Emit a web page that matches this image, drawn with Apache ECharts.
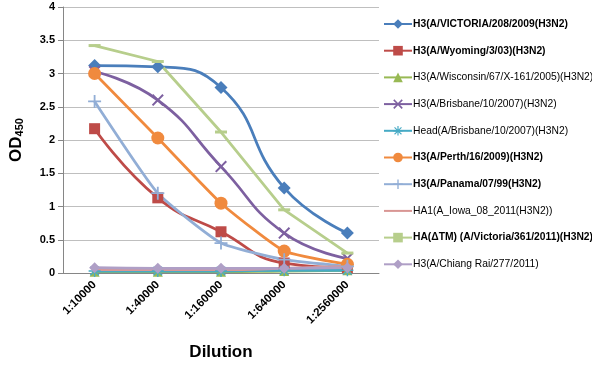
<!DOCTYPE html>
<html><head><meta charset="utf-8">
<script src="https://cdn.jsdelivr.net/npm/echarts@6/dist/echarts.min.js"></script>
<style>html,body{margin:0;padding:0;background:#fff}#c{width:592px;height:367px}</style>
</head><body><div id="c"></div>
<script>
const categories = ['1:10000','1:40000','1:160000','1:640000','1:2560000'];
const yTicks = [0,0.5,1,1.5,2,2.5,3,3.5,4];
const victoria208 = [3.12,3.10,2.79,1.28,0.60];
const wyoming = [2.17,1.13,0.62,0.15,0.08];
const wisconsin = [0.02,0.02,0.02,0.03,0.04];
const brisbane = [3.03,2.60,1.60,0.60,0.22];
const headBrisbane = [0.03,0.03,0.03,0.04,0.04];
const perth = [3.00,2.03,1.05,0.33,0.13];
const panama = [2.58,1.20,0.45,0.20,0.10];
const iowa = [0.05,0.05,0.05,0.07,0.10];
const victoria361 = [3.42,3.18,2.12,0.95,0.30];
const chiangRai = [0.08,0.07,0.07,0.07,0.08];

const X = 'path://M0,1.2L1.2,0L5,3.8L8.8,0L10,1.2L6.2,5L10,8.8L8.8,10L5,6.2L1.2,10L0,8.8L3.8,5Z';
const PLUS = 'path://M4.3,0H5.7V4.3H10V5.7H5.7V10H4.3V5.7H0V4.3H4.3Z';
const STAR = 'path://M4.4,0H5.6V3.6L8.2,1L9,1.8L6.4,4.4H10V5.6H6.4L9,8.2L8.2,9L5.6,6.4V10H4.4V6.4L1.8,9L1,8.2L3.6,5.6H0V4.4H3.6L1,1.8L1.8,1L4.4,3.6Z';

const defs = [
  {name:'H3(A/VICTORIA/208/2009(H3N2)', data:victoria208, color:'#4A7EBB', symbol:'diamond', size:13, smooth:true, bold:true},
  {name:'H3(A/Wyoming/3/03)(H3N2)', data:wyoming, color:'#BE4B48', symbol:'rect', size:11, smooth:true, bold:true},
  {name:'H3(A/Wisconsin/67/X-161/2005)(H3N2)', data:wisconsin, color:'#98B954', symbol:'triangle', size:10, smooth:true, bold:false},
  {name:'H3(A/Brisbane/10/2007)(H3N2)', data:brisbane, color:'#7D60A0', symbol:X, size:12, smooth:true, bold:false},
  {name:'Head(A/Brisbane/10/2007)(H3N2)', data:headBrisbane, color:'#46AAC5', symbol:STAR, size:12, smooth:true, bold:false},
  {name:'H3(A/Perth/16/2009)(H3N2)', data:perth, color:'#F08A3E', symbol:'circle', size:13, smooth:0.15, bold:true},
  {name:'H3(A/Panama/07/99(H3N2)', data:panama, color:'#92AED6', symbol:PLUS, size:13, smooth:0.15, bold:true},
  {name:'HA1(A_Iowa_08_2011(H3N2))', data:iowa, color:'#D99694', symbol:'none', size:0, smooth:true, bold:false},
  {name:'HA(\u0394TM) (A/Victoria/361/2011)(H3N2)', data:victoria361, color:'#B7CE8C', symbol:'rect', size:[12,3], smooth:false, bold:true},
  {name:'H3(A/Chiang Rai/277/2011)', data:chiangRai, color:'#AF9FC6', symbol:'diamond', size:11, smooth:true, bold:false}
];
const boldSet = new Set(defs.filter(d=>d.bold).map(d=>d.name));

const chart = echarts.init(document.getElementById('c'), null, {renderer:'canvas'});
chart.setOption({
  animation:false,
  textStyle:{fontFamily:'Liberation Sans'},
  grid:{left:63, right:213, top:7, bottom:94, containLabel:false},
  legend:{
    orient:'vertical', left:378, top:13, itemGap:14.7, itemWidth:28, itemHeight:12,
    data: defs.map(d=>d.name),
    formatter: n => boldSet.has(n) ? '{b|'+n+'}' : '{n|'+n+'}',
    textStyle:{fontSize:10.3, color:'#000', padding:[0,0,0,-4], lineHeight:12, rich:{
      b:{fontSize:10.3, fontWeight:'bold', color:'#000', fontFamily:'Liberation Sans', lineHeight:12},
      n:{fontSize:10.3, color:'#000', fontFamily:'Liberation Sans', lineHeight:12}
    }}
  },
  xAxis:{
    type:'category', data:categories, boundaryGap:true,
    axisLine:{lineStyle:{color:'#868686', width:1}},
    axisTick:{show:false},
    axisLabel:{rotate:45, fontSize:11.5, fontWeight:'bold', color:'#000', margin:10},
    name:'Dilution', nameLocation:'middle', nameGap:71,
    nameTextStyle:{fontSize:17, fontWeight:'bold', color:'#000'}
  },
  yAxis:{
    type:'value', min:0, max:4, interval:0.5,
    axisLine:{show:true, lineStyle:{color:'#868686', width:1}},
    axisTick:{show:true, length:5, lineStyle:{color:'#868686'}},
    splitLine:{lineStyle:{color:'#BFBFBF', width:1}},
    axisLabel:{fontSize:11, fontWeight:'bold', color:'#000', margin:8,
      formatter: v => yTicks.includes(v) ? String(v) : ''},
    name:'{a|OD}{s|450}', nameLocation:'middle', nameGap:38, nameRotate:90,
    nameTextStyle:{rich:{
      a:{fontSize:17, fontWeight:'bold', color:'#000', fontFamily:'Liberation Sans'},
      s:{fontSize:11, fontWeight:'bold', color:'#000', fontFamily:'Liberation Sans', padding:[6,0,0,0]}
    }}
  },
  series: defs.map(d=>({
    name:d.name, type:'line', data:d.data, smooth:d.smooth,
    symbol:d.symbol==='none' ? 'circle' : d.symbol, symbolSize:d.size,
    showSymbol:d.symbol!=='none',
    lineStyle:{color:d.color, width:2.75},
    itemStyle:{color:d.color, opacity:d.symbol==='none' ? 0 : 1},
    emphasis:{disabled:true}
  }))
});
</script></body></html>
